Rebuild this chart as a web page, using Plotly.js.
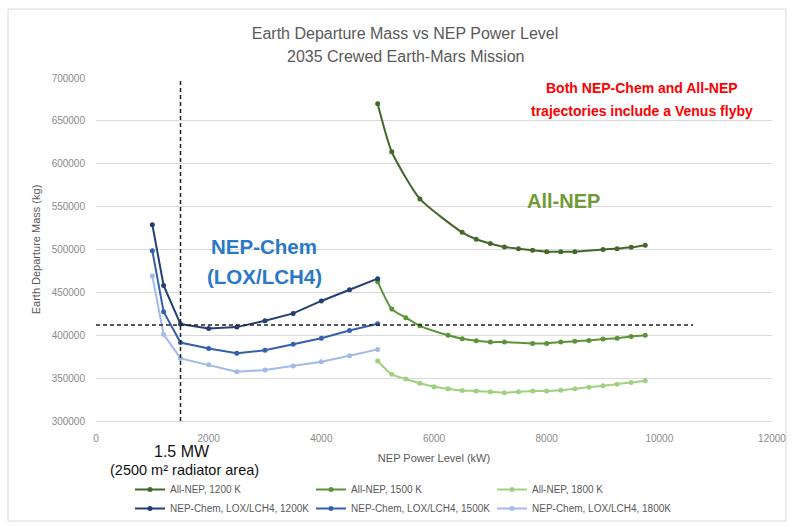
<!DOCTYPE html>
<html>
<head>
<meta charset="utf-8">
<script src="https://cdn.plot.ly/plotly-3.0.1.min.js"></script>
<style>html,body{margin:0;padding:0;background:#fff;}#chart{width:794px;height:527px;}</style>
</head>
<body>
<div id="chart"></div>
<script>
// ---- Data ----
const allNep1200X = [5000,5250,5750,6500,6750,7000,7250,7500,7750,8000,8250,8500,9000,9250,9500,9750];
const allNep1200Y = [670000,614000,559000,520000,512000,507000,503000,501000,499000,497500,497500,497500,500000,501000,502500,505000];

const allNep1500X = [5000,5250,5500,5750,6250,6500,6750,7000,7250,7750,8000,8250,8500,8750,9000,9250,9500,9750];
const allNep1500Y = [462500,430500,420500,411000,400000,396000,393500,392000,392000,390500,390500,392000,393000,394000,395500,396500,398500,400000];

const allNep1800X = [5000,5250,5500,5750,6000,6250,6500,6750,7000,7250,7500,7750,8000,8250,8500,8750,9000,9250,9500,9750];
const allNep1800Y = [370000,354500,349000,344000,340000,337500,335500,335000,334000,333000,334000,335000,335000,336000,337500,339500,341000,343000,345000,347000];

const nepChemX = [1000,1200,1500,2000,2500,3000,3500,4000,4500,5000];
const nepChem1200Y = [529000,458000,413000,408000,409500,417000,425500,440000,453000,466000];
const nepChem1500Y = [498500,427500,391500,384500,379000,382500,389500,396500,405500,413500];
const nepChem1800Y = [469000,401000,373000,365500,357500,359500,364000,369000,376000,383500];

const seriesNames = ["All-NEP, 1200 K","All-NEP, 1500 K","All-NEP, 1800 K",
  "NEP-Chem, LOX/LCH4, 1200K","NEP-Chem, LOX/LCH4, 1500K","NEP-Chem, LOX/LCH4, 1800K"];

// reference lines: 1.5 MW power level and mass level
const refPowerX = [1500,1500];
const refPowerY = [300000,700000];
const refMassX = [0,10600];
const refMassY = [412000,412000];

const yTicks = [300000,350000,400000,450000,500000,550000,600000,650000,700000];
const xTicks = [0,2000,4000,6000,8000,10000,12000];

// ---- Styles ----
const colors = ["#43682b","#5a9436","#9fd07f","#233f74","#3560ac","#a0bbe8"];
const FONT = "Liberation Sans, Arial, sans-serif";

function tr(x, y, i, shape) {
  return {
    x: x, y: y, name: seriesNames[i], type: "scatter", mode: "lines+markers",
    line: {color: colors[i], width: 2, shape: shape, smoothing: 0.6},
    marker: {color: colors[i], size: 5},
    hoverinfo: "x+y+name"
  };
}

const traces = [
  tr(allNep1200X, allNep1200Y, 0, "spline"),
  tr(allNep1500X, allNep1500Y, 1, "spline"),
  tr(allNep1800X, allNep1800Y, 2, "spline"),
  tr(nepChemX, nepChem1200Y, 3, "linear"),
  tr(nepChemX, nepChem1500Y, 4, "linear"),
  tr(nepChemX, nepChem1800Y, 5, "linear"),
  {x: refPowerX, y: refPowerY, type: "scatter", mode: "lines", showlegend: false, cliponaxis: false,
   line: {color: "#222", width: 1.5, dash: "4px,3px"}, hoverinfo: "skip"},
  {x: refMassX, y: refMassY, type: "scatter", mode: "lines", showlegend: false, cliponaxis: false,
   line: {color: "#222", width: 1.5, dash: "4px,3px"}, hoverinfo: "skip"}
];

const L = 96, R = 22, T = 78, B = 106;
const PW = 794 - L - R, PH = 527 - T - B;
const px = v => (v - L) / PW;
const py = v => (527 - B - v) / PH;

const layout = {
  width: 794, height: 527,
  margin: {l: L, r: R, t: T, b: B, autoexpand: false},
  paper_bgcolor: "#fff", plot_bgcolor: "#fff",
  font: {family: FONT, color: "#595959"},
  title: {
    text: "Earth Departure Mass vs NEP Power Level",
    font: {family: FONT, size: 16, color: "#595959"},
    x: 405/794, xref: "container", xanchor: "center", y: 1 - 33/527, yref: "container", yanchor: "middle"
  },
  xaxis: {
    range: [0, 12000], tickvals: xTicks, ticktext: xTicks.map(String),
    showgrid: false, zeroline: false, showline: true, linecolor: "#d9d9d9", linewidth: 1,
    ticks: "", tickfont: {family: FONT, size: 10, color: "#8a8a8a"}, ticklabelstandoff: 8,
    title: {text: "NEP Power Level (kW)", font: {family: FONT, size: 11, color: "#595959"}, standoff: 11}
  },
  yaxis: {
    range: [300000, 700000], tickvals: yTicks, ticktext: yTicks.map(String),
    showgrid: true, gridcolor: "#d9d9d9", gridwidth: 1, zeroline: false, showline: false,
    ticks: "", tickfont: {family: FONT, size: 10, color: "#8a8a8a"}, ticklabelstandoff: 10,
    title: {text: "Earth Departure Mass (kg)", font: {family: FONT, size: 11, color: "#595959"}, standoff: 8}
  },
  legend: {
    orientation: "h", x: px(130), xanchor: "left", y: py(475), yanchor: "top",
    font: {family: FONT, size: 10, color: "#595959"},
    entrywidth: 136, entrywidthmode: "pixels", itemwidth: 30, tracegroupgap: 0,
    bgcolor: "rgba(0,0,0,0)"
  },
  shapes: [
    {type: "rect", xref: "paper", yref: "paper", x0: px(8), x1: px(786), y0: py(521), y1: py(9),
     line: {color: "#d9d9d9", width: 1}, fillcolor: "rgba(0,0,0,0)", layer: "below"}
  ],
  annotations: [
    {text: "2035 Crewed Earth-Mars Mission", xref: "paper", yref: "paper", x: px(405), y: py(57),
     showarrow: false, font: {family: FONT, size: 16, color: "#595959"}, xanchor: "center", yanchor: "middle"},
    {text: "<b>Both NEP-Chem and All-NEP</b>", xref: "paper", yref: "paper", x: px(642), y: py(88),
     showarrow: false, font: {family: FONT, size: 14, color: "#ff0000"}, xanchor: "center", yanchor: "middle"},
    {text: "<b>trajectories include a Venus flyby</b>", xref: "paper", yref: "paper", x: px(642), y: py(111),
     showarrow: false, font: {family: FONT, size: 14, color: "#ff0000"}, xanchor: "center", yanchor: "middle"},
    {text: "<b>All-NEP</b>", xref: "paper", yref: "paper", x: px(563), y: py(201),
     showarrow: false, font: {family: FONT, size: 20, color: "#6f9a36"}, xanchor: "center", yanchor: "middle"},
    {text: "<b>NEP-Chem</b>", xref: "paper", yref: "paper", x: px(264), y: py(246),
     showarrow: false, font: {family: FONT, size: 20.5, color: "#2a78c8"}, xanchor: "center", yanchor: "middle"},
    {text: "<b>(LOX/LCH4)</b>", xref: "paper", yref: "paper", x: px(264), y: py(276),
     showarrow: false, font: {family: FONT, size: 20.5, color: "#2a78c8"}, xanchor: "center", yanchor: "middle"},
    {text: "1.5 MW", xref: "paper", yref: "paper", x: px(182), y: py(451),
     showarrow: false, font: {family: FONT, size: 16, color: "#111"}, xanchor: "center", yanchor: "middle"},
    {text: "(2500 m² radiator area)", xref: "paper", yref: "paper", x: px(184), y: py(470),
     showarrow: false, font: {family: FONT, size: 14.5, color: "#111"}, xanchor: "center", yanchor: "middle"}
  ]
};

Plotly.newPlot("chart", traces, layout, {displayModeBar: false, staticPlot: true});
</script>
</body>
</html>
